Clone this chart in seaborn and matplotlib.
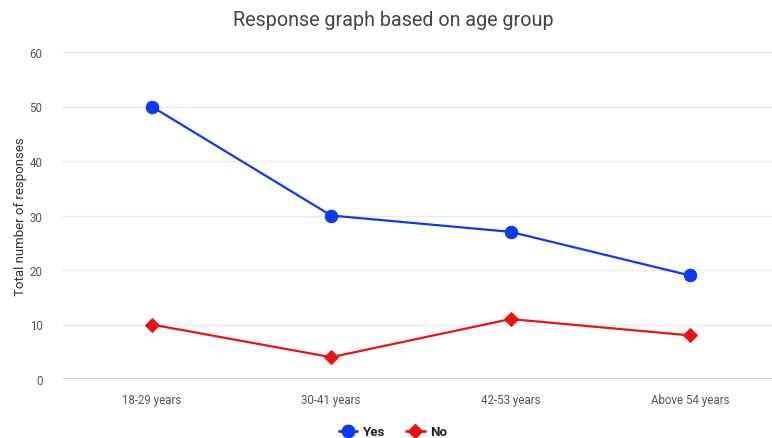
import matplotlib
matplotlib.use("Agg")
import matplotlib.pyplot as plt
from matplotlib.lines import Line2D
import seaborn as sns
import pandas as pd

# Survey responses by age group
age_groups = ["18-29 years", "30-41 years", "42-53 years", "Above 54 years"]
yes_counts = [50, 30, 27, 19]
no_counts = [10, 4, 11, 8]
y_ticks = [0, 10, 20, 30, 40, 50, 60]

df = pd.DataFrame({
    "age": age_groups * 2,
    "count": yes_counts + no_counts,
    "response": ["Yes"] * len(age_groups) + ["No"] * len(age_groups),
})

sns.set_theme(style="white")
plt.rcParams["font.family"] = ["Roboto", "DejaVu Sans"]

colors = {"Yes": "#0a3af2", "No": "#ea1212"}
markers = {"Yes": "o", "No": "D"}

fig = plt.figure(figsize=(7.72, 4.39), dpi=100)
ax = fig.add_axes([62 / 772, 1 - 380 / 439, 1 - 62 / 772, (380 - 53) / 439])

for resp in ["Yes", "No"]:
    sub = df[df["response"] == resp]
    sns.lineplot(
        data=sub, x="age", y="count", ax=ax, color=colors[resp],
        marker=markers[resp], markersize=9 if resp == "Yes" else 7.5,
        markeredgecolor=colors[resp], linewidth=1.6, sort=False, legend=False,
    )

ax.set_xlim(-0.5, 3 + (772 - 690) / 179.3)
ax.set_ylim(0, 60)
ax.set_yticks(y_ticks)
ax.grid(axis="y", color="#ebebeb", linewidth=1)
ax.grid(axis="x", visible=False)
ax.axhline(0, color="#d0d0d0", linewidth=1.2, zorder=1)
ax.set_axisbelow(True)
for s in ax.spines.values():
    s.set_visible(False)
ax.tick_params(axis="both", length=0, labelsize=8.3, labelcolor="#555555")
ax.tick_params(axis="y", pad=14)
ax.tick_params(axis="x", pad=10)
ax.set_xlabel("")
ax.set_ylabel("Total number of responses", fontsize=9.5, color="#333333", labelpad=2)

fig.text(393 / 772, 1 - 21 / 439, "Response graph based on age group",
         ha="center", va="center", fontsize=14.2, color="#444444")

handles = [
    Line2D([0], [0], color=colors["Yes"], marker="o", markersize=9, linewidth=2),
    Line2D([0], [0], color=colors["No"], marker="D", markersize=7, linewidth=2),
]
leg = fig.legend(handles, ["Yes", "No"], loc="center", ncol=2,
                 bbox_to_anchor=(393 / 772, 1 - 433 / 439), frameon=False,
                 handlelength=1.4, handletextpad=0.4, columnspacing=1.6,
                 prop={"weight": "bold", "size": 9.5})
for t in leg.get_texts():
    t.set_color("#222222")

fig.savefig("out.png", dpi=100)
